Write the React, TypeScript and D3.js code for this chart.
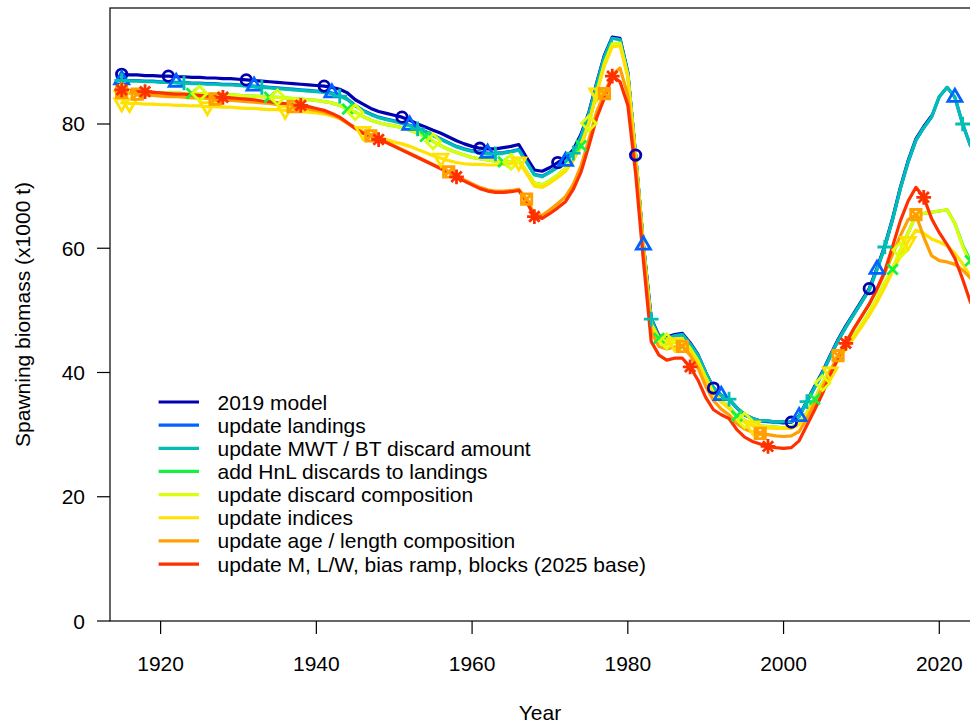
import React from "react";
import * as d3 from "d3";

// ---------------- data ----------------
const startYear = 1915;

const seriesNames = [
  "2019 model",
  "update landings",
  "update MWT / BT discard amount",
  "add HnL discards to landings",
  "update discard composition",
  "update indices",
  "update age / length composition",
  "update M, L/W, bias ramp, blocks (2025 base)",
];

const seriesColors = ["#0000B0", "#0063FF", "#00BEB4", "#13F240", "#DDFE0B", "#FFE201", "#FF9F00", "#FF3000"];

// values from 1915 onward (x1000 t)
const model2019 = [
  88.0, 87.9, 87.9, 87.8, 87.8, 87.7, 87.7, 87.6, 87.6, 87.5,
  87.5, 87.4, 87.4, 87.3, 87.3, 87.2, 87.1, 87.0, 86.9, 86.8,
  86.7, 86.6, 86.5, 86.4, 86.3, 86.2, 86.1, 85.9, 85.6, 85.0,
  83.9, 83.2, 82.5, 82.0, 81.7, 81.4, 81.1, 80.6, 80.0, 79.5,
  79.0, 78.5, 77.9, 77.3, 76.8, 76.4, 76.1, 76.0, 76.0, 76.2,
  76.4, 76.7, 74.6, 72.6, 72.4, 73.0, 73.8, 74.5, 75.9, 78.4,
  81.9, 86.6, 91.1, 94.0, 93.8, 88.3, 75.0, 60.6, 48.7, 45.9,
  45.7, 46.1, 46.3, 44.8, 42.9, 40.0, 37.5, 36.3, 35.7, 34.3,
  33.2, 32.6, 32.2, 32.1, 32.0, 31.9, 32.0, 33.0, 35.4, 37.8,
  40.1, 42.8, 45.3, 47.5, 49.5, 51.5, 53.5, 56.8, 60.4, 64.8,
  69.8, 74.1, 77.6, 79.6, 81.3,
];

const updateLandings = [
  87.1, 87.0, 87.0, 86.9, 86.9, 86.8, 86.8, 86.7, 86.7, 86.6,
  86.6, 86.5, 86.5, 86.4, 86.4, 86.3, 86.2, 86.1, 86.0, 85.9,
  85.8, 85.7, 85.6, 85.5, 85.4, 85.3, 85.2, 85.0, 84.6, 84.0,
  83.0, 82.2, 81.6, 81.1, 80.8, 80.5, 80.2, 79.8, 79.3, 78.8,
  78.2, 77.6, 77.0, 76.4, 76.0, 75.7, 75.5, 75.3, 75.3, 75.4,
  75.6, 75.9, 73.9, 71.9, 71.6, 72.3, 73.1, 74.0, 75.4, 78.1,
  81.7, 86.4, 90.9, 93.8, 93.6, 88.1, 75.0, 60.5, 48.6, 45.6,
  45.4, 45.9, 46.1, 44.6, 42.8, 40.0, 37.5, 36.3, 35.7, 34.3,
  33.2, 32.6, 32.2, 32.2, 32.0, 32.1, 32.1, 32.9, 35.3, 37.6,
  39.9, 42.6, 45.1, 47.3, 49.3, 51.3, 53.3, 56.6, 60.2, 64.6,
  69.6, 73.9, 77.4, 79.4, 81.1, 84.4, 85.9, 84.3, 80.0, 76.5,
];

const updateDiscardAmount = [
  87.0, 86.9, 86.9, 86.8, 86.8, 86.7, 86.7, 86.6, 86.6, 86.5,
  86.5, 86.4, 86.4, 86.3, 86.3, 86.2, 86.1, 86.0, 85.9, 85.8,
  85.7, 85.6, 85.5, 85.4, 85.3, 85.2, 85.1, 84.9, 84.5, 83.9,
  82.9, 82.1, 81.5, 81.0, 80.7, 80.4, 80.1, 79.7, 79.2, 78.7,
  78.1, 77.5, 76.9, 76.3, 75.9, 75.6, 75.4, 75.2, 75.2, 75.3,
  75.5, 75.8, 73.8, 71.8, 71.5, 72.2, 73.0, 73.9, 75.3, 78.0,
  81.6, 86.3, 90.8, 93.8, 93.6, 88.1, 75.0, 60.5, 48.6, 45.6,
  45.4, 45.9, 46.1, 44.6, 42.8, 40.0, 37.5, 36.3, 35.7, 34.3,
  33.2, 32.6, 32.2, 32.2, 32.0, 32.1, 32.1, 32.9, 35.3, 37.6,
  39.9, 42.6, 45.1, 47.3, 49.3, 51.3, 53.3, 56.6, 60.2, 64.6,
  69.6, 73.9, 77.4, 79.4, 81.1, 84.4, 85.9, 84.3, 80.0, 76.5,
];

const addHnlDiscards = [
  85.3, 85.2, 85.2, 85.1, 85.1, 85.0, 85.0, 85.0, 84.9, 84.9,
  84.9, 84.8, 84.8, 84.7, 84.7, 84.6, 84.5, 84.5, 84.4, 84.3,
  84.3, 84.2, 84.1, 84.0, 83.9, 83.8, 83.6, 83.4, 83.0, 82.4,
  81.9, 81.2, 80.6, 80.2, 79.9, 79.7, 79.4, 79.0, 78.5, 78.0,
  77.2, 76.5, 75.9, 75.4, 75.0, 74.6, 74.4, 74.2, 74.0, 73.9,
  73.9, 74.2, 72.3, 70.5, 70.2, 70.9, 71.8, 72.9, 74.3, 76.5,
  80.1, 85.1, 89.8, 92.9, 93.0, 87.8, 74.8, 60.2, 47.8, 45.5,
  45.0, 45.2, 45.4, 43.9, 41.9, 39.2, 36.8, 35.5, 34.5, 33.0,
  32.3, 31.7, 31.4, 31.3, 31.2, 31.1, 31.2, 31.8, 33.5, 35.7,
  38.3, 40.4, 42.4, 44.2, 45.9, 47.7, 49.7, 51.9, 54.4, 56.6,
  59.7, 62.5, 65.3, 65.6, 65.8, 66.0, 66.2, 64.0, 60.5, 58.0,
];

const updateDiscardComp = [
  85.3, 85.2, 85.2, 85.1, 85.1, 85.0, 85.0, 85.0, 84.9, 84.9,
  84.9, 84.8, 84.8, 84.7, 84.7, 84.6, 84.5, 84.5, 84.4, 84.3,
  84.3, 84.2, 84.1, 84.0, 83.9, 83.8, 83.6, 83.4, 83.0, 82.4,
  81.9, 81.2, 80.6, 80.2, 79.9, 79.7, 79.4, 79.0, 78.5, 78.0,
  77.2, 76.5, 75.9, 75.4, 75.0, 74.6, 74.4, 74.2, 74.0, 73.9,
  73.9, 74.2, 72.3, 70.5, 70.2, 70.9, 71.8, 72.9, 74.3, 76.6,
  80.1, 85.1, 89.8, 92.9, 93.0, 87.8, 74.8, 60.2, 47.8, 45.5,
  45.0, 45.2, 45.4, 43.9, 41.9, 39.2, 36.8, 35.5, 34.5, 33.0,
  32.3, 31.7, 31.4, 31.3, 31.2, 31.1, 31.2, 31.8, 33.5, 35.6,
  38.3, 40.4, 42.4, 44.2, 45.9, 47.7, 49.7, 51.9, 54.4, 56.8,
  59.7, 62.5, 65.3, 65.6, 65.8, 66.0, 66.2, 64.0, 60.3, 57.5,
];

const updateIndices = [
  83.4, 83.3, 83.3, 83.2, 83.2, 83.1, 83.1, 83.0, 83.0, 82.9,
  82.9, 82.8, 82.8, 82.7, 82.7, 82.6, 82.5, 82.5, 82.4, 82.3,
  82.3, 82.2, 82.1, 82.0, 81.9, 81.8, 81.6, 81.3, 80.9, 80.2,
  79.4, 78.8, 78.3, 77.9, 77.5, 77.1, 76.8, 76.4, 75.9, 75.4,
  74.9, 74.5, 74.1, 73.8, 73.6, 73.5, 73.5, 73.4, 73.4, 73.5,
  73.6, 73.9, 72.0, 70.0, 69.8, 70.5, 71.4, 72.4, 74.1, 76.7,
  80.2, 85.0, 89.4, 92.4, 92.6, 87.5, 74.6, 60.0, 47.5, 45.0,
  44.5, 44.8, 45.0, 43.5, 41.5, 38.9, 36.5, 35.2, 34.2, 32.8,
  32.0, 31.4, 31.2, 31.1, 31.0, 31.0, 31.0, 31.6, 33.4, 35.6,
  38.0, 40.1, 42.0, 43.8, 45.5, 47.3, 49.2, 51.3, 53.7, 56.2,
  58.7, 61.1, 62.9, 62.4, 61.5, 61.0, 60.4, 59.2, 57.5, 55.5,
];

const updateAgeLength = [
  85.1, 85.0, 84.8, 84.7, 84.6, 84.5, 84.4, 84.4, 84.3, 84.2,
  84.2, 84.1, 84.0, 83.9, 83.8, 83.7, 83.6, 83.5, 83.4, 83.3,
  83.1, 83.0, 82.8, 82.6, 82.4, 82.2, 81.9, 81.5, 80.9, 80.1,
  79.3, 78.6, 78.1, 77.6, 77.1, 76.5, 75.9, 75.3, 74.7, 74.1,
  73.5, 72.9, 72.3, 71.6, 71.0, 70.4, 69.8, 69.4, 69.2, 69.2,
  69.3, 69.5, 67.9, 65.5, 65.3, 66.2, 67.2, 68.3, 70.3, 73.3,
  77.5, 82.0, 84.9, 87.9, 89.0, 84.6, 73.5, 59.3, 46.6, 44.2,
  43.8, 44.1, 44.2, 42.8, 40.8, 37.8, 35.5, 34.1, 33.2, 31.8,
  30.9, 30.4, 30.2, 30.0, 29.8, 29.7, 29.8, 30.5, 32.6, 35.1,
  37.6, 40.2, 42.7, 44.9, 47.0, 49.0, 51.0, 53.3, 56.0, 59.0,
  62.0, 64.6, 65.4, 61.8, 58.8, 58.0, 57.8, 57.4, 56.5, 55.2,
];

const base2025 = [
  85.5, 85.4, 85.3, 85.2, 85.1, 85.0, 84.9, 84.8, 84.8, 84.7,
  84.6, 84.5, 84.4, 84.3, 84.2, 84.1, 84.0, 83.9, 83.7, 83.6,
  83.4, 83.3, 83.1, 83.0, 82.8, 82.5, 82.2, 81.7, 81.1, 80.2,
  79.3, 78.5, 78.0, 77.5, 77.0, 76.4, 75.8, 75.2, 74.6, 74.0,
  73.4, 72.8, 72.2, 71.5, 70.8, 70.2, 69.6, 69.2, 69.0, 69.0,
  69.1, 69.3, 67.5, 65.1, 64.8, 65.6, 66.5, 67.5, 69.5, 72.3,
  76.5, 81.0, 84.2, 87.7, 86.8, 83.0, 72.0, 58.0, 45.0, 42.8,
  42.0, 42.3, 42.3, 40.9, 38.8, 36.0, 34.0, 33.2, 32.6, 30.8,
  29.6, 28.9, 28.5, 28.1, 27.9, 27.8, 27.9, 29.0, 31.5, 34.0,
  36.6, 39.6, 42.3, 44.7, 47.0, 49.0, 51.0, 53.5, 56.3, 60.3,
  64.4, 67.6, 69.8, 68.2, 64.8, 62.5, 60.6, 58.4, 55.0, 51.3,
];

const seriesValues = [
  model2019, updateLandings, updateDiscardAmount, addHnlDiscards,
  updateDiscardComp, updateIndices, updateAgeLength, base2025,
];

const xTicks = [1920, 1940, 1960, 1980, 2000, 2020];
const yTicks = [0, 20, 40, 60, 80];

// ---------------- layout ----------------
const W = 970;
const H = 725;
const left = 110;
const right = 972;
const top = 8;
const bottom = 621;
const FONT = "'Liberation Sans', Arial, Helvetica, sans-serif";
const FS = 21;

const x = d3.scaleLinear().domain([1913.5, 2024.2]).range([left, right]);
const y = d3.scaleLinear().domain([0, 98.67]).range([bottom, top]);

const A = 5.2; // base marker radius

function markerPath(i: number): string {
  const a = A;
  const p = d3.path();
  switch (i) {
    case 0: // circle
      p.moveTo(a, 0);
      p.arc(0, 0, a, 0, Math.PI * 2);
      break;
    case 1: { // triangle up
      const r = 1.5551 * a, xc = 1.3468 * a, yc = 0.7776 * a;
      p.moveTo(0, -r); p.lineTo(xc, yc); p.lineTo(-xc, yc); p.closePath();
      break;
    }
    case 2: { // plus
      const c = Math.SQRT2 * a;
      p.moveTo(-c, 0); p.lineTo(c, 0); p.moveTo(0, -c); p.lineTo(0, c);
      break;
    }
    case 3: // cross
      p.moveTo(-a, -a); p.lineTo(a, a); p.moveTo(-a, a); p.lineTo(a, -a);
      break;
    case 4: { // diamond
      const c = Math.SQRT2 * a;
      p.moveTo(0, -c); p.lineTo(c, 0); p.lineTo(0, c); p.lineTo(-c, 0); p.closePath();
      break;
    }
    case 5: { // triangle down
      const r = 1.5551 * a, xc = 1.3468 * a, yc = 0.7776 * a;
      p.moveTo(0, r); p.lineTo(xc, -yc); p.lineTo(-xc, -yc); p.closePath();
      break;
    }
    case 6: // square with X
      p.rect(-a, -a, 2 * a, 2 * a);
      p.moveTo(-a, -a); p.lineTo(a, a); p.moveTo(-a, a); p.lineTo(a, -a);
      break;
    default: { // asterisk
      p.moveTo(-a, -a); p.lineTo(a, a); p.moveTo(-a, a); p.lineTo(a, -a);
      const c = Math.SQRT2 * a;
      p.moveTo(-c, 0); p.lineTo(c, 0); p.moveTo(0, -c); p.lineTo(0, c);
    }
  }
  return p.toString();
}

export default function App() {
  const line = d3
    .line<number>()
    .x((_, k) => x(startYear + k))
    .y((v) => y(v));

  const points: { s: number; yr: number; v: number }[] = [];
  seriesValues.forEach((vals, s) => {
    vals.forEach((v, k) => {
      const yr = startYear + k;
      if (k === 0 || yr % 10 === (s + 1) % 10) points.push({ s, yr, v });
    });
  });

  const legendY0 = 402;
  const legendDy = 23.15;

  return (
    <svg
      width={W}
      height={H}
      style={{ position: "absolute", left: 0, top: 0, background: "#fff" }}
      fontFamily={FONT}
    >
      <defs>
        <clipPath id="plotclip">
          <rect x={left} y={top} width={right - left} height={bottom - top} />
        </clipPath>
      </defs>
      <rect x={0} y={0} width={W} height={H} fill="#fff" />

      <g clipPath="url(#plotclip)">
        {seriesValues.map((vals, s) => (
          <path
            key={s}
            d={line(vals) || ""}
            fill="none"
            stroke={seriesColors[s]}
            strokeWidth={3.2}
            strokeLinejoin="round"
            strokeLinecap="round"
          />
        ))}
        {points.map((p, k) => (
          <path
            key={k}
            transform={`translate(${x(p.yr)},${y(p.v)})`}
            d={markerPath(p.s)}
            fill="none"
            stroke={seriesColors[p.s]}
            strokeWidth={2.8}
          />
        ))}
      </g>

      {/* box */}
      <rect x={left} y={top} width={right - left} height={bottom - top} fill="none" stroke="#000" strokeWidth={1.2} />

      {/* y axis */}
      {yTicks.map((t) => (
        <g key={t}>
          <line x1={left - 13} x2={left} y1={y(t)} y2={y(t)} stroke="#000" strokeWidth={1.2} />
          <text x={85} y={y(t) + 7.5} textAnchor="end" fontSize={FS} fill="#000">
            {t}
          </text>
        </g>
      ))}
      {/* x axis */}
      {xTicks.map((t) => (
        <g key={t}>
          <line x1={x(t)} x2={x(t)} y1={bottom} y2={bottom + 13} stroke="#000" strokeWidth={1.2} />
          <text x={x(t)} y={670.5} textAnchor="middle" fontSize={FS} fill="#000">
            {t}
          </text>
        </g>
      ))}

      <text x={540} y={719.5} textAnchor="middle" fontSize={FS} fill="#000">
        Year
      </text>
      <text
        transform={`translate(30,${(top + bottom) / 2}) rotate(-90)`}
        textAnchor="middle"
        fontSize={FS}
        fill="#000"
      >
        Spawning biomass (x1000 t)
      </text>

      {/* legend */}
      {seriesNames.map((n, s) => (
        <g key={n}>
          <line
            x1={158.6}
            x2={199}
            y1={legendY0 + s * legendDy}
            y2={legendY0 + s * legendDy}
            stroke={seriesColors[s]}
            strokeWidth={3.2}
          />
          <text x={217.5} y={legendY0 + s * legendDy + 7.5} fontSize={FS} fill="#000">
            {n}
          </text>
        </g>
      ))}
    </svg>
  );
}
